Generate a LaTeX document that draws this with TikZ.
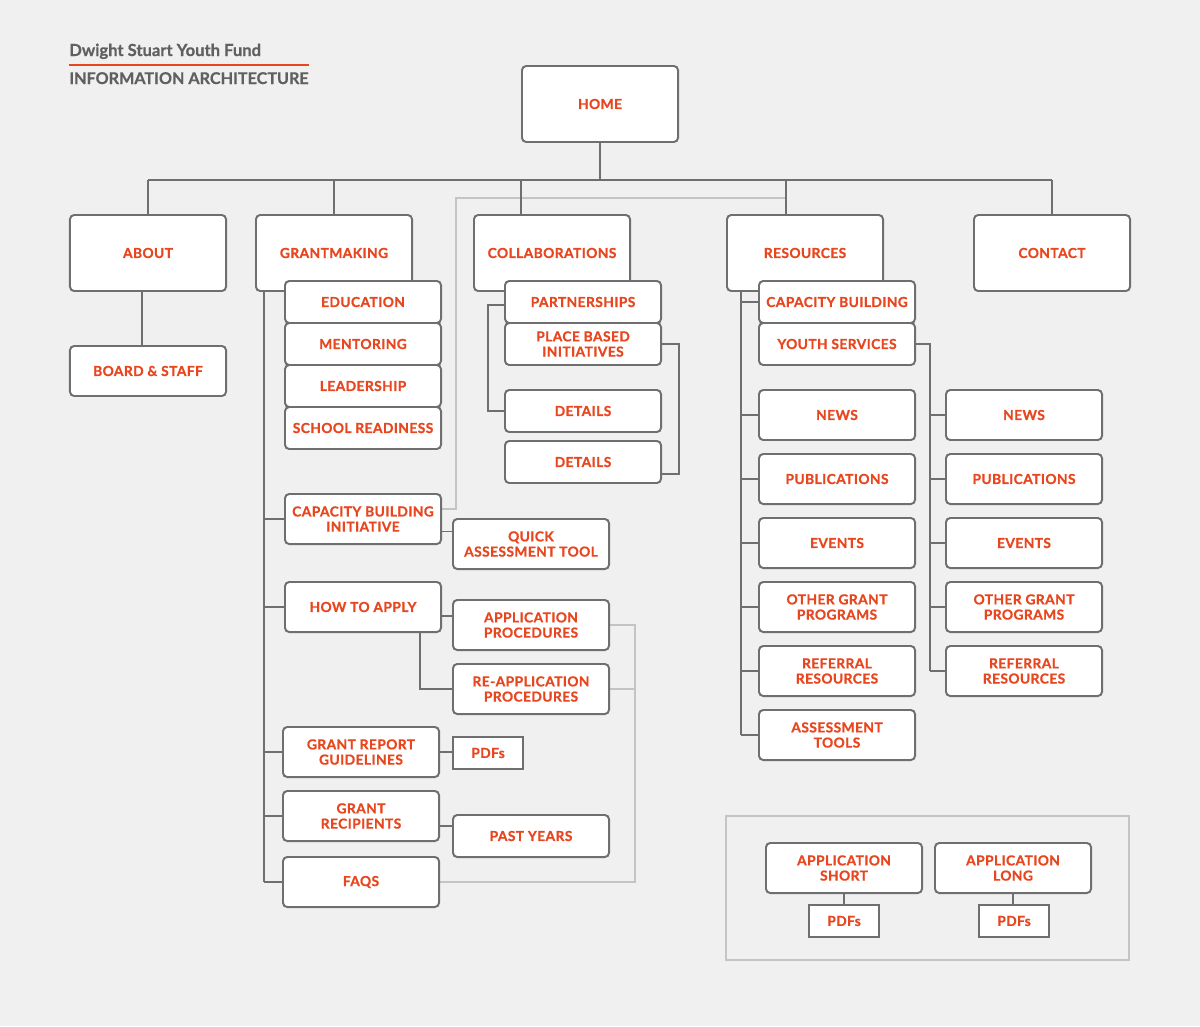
\documentclass[tikz,border=0pt]{standalone}
\usepackage{fontspec}
\setmainfont{Lato}[BoldFeatures={FakeBold=0.6}]
\newfontfamily\boxfont[LetterSpace=3,BoldFeatures={FakeBold=0.8}]{Lato}
\usetikzlibrary{calc,backgrounds,positioning}
\definecolor{iaorange}{HTML}{E8461E}
\definecolor{iagrey}{HTML}{6F6F6F}
\definecolor{iapale}{HTML}{C4C4C4}
\definecolor{iabg}{HTML}{F0F0F0}
\definecolor{iatitle}{HTML}{606060}
\tikzset{link/.style={draw=iagrey,line width=1.4pt},softlink/.style={draw=iapale,line width=1.4pt}}

\begin{document}
\begin{tikzpicture}[x=0.025cm,y=-0.025cm,font=\boxfont\bfseries\fontsize{9.8}{10.8}\selectfont]

\tikzset{topnode/.style={draw=iagrey,fill=white,line width=1.4pt,rounded corners=3pt,text=iaorange,align=center,inner sep=0pt,minimum width=3.9cm,minimum height=1.9cm},
pagenode/.style={topnode,minimum height=1.25cm},
tabnode/.style={topnode,minimum height=1.05cm},
pdfnode/.style={topnode,sharp corners,minimum width=1.75cm,minimum height=0.8cm}}

% Background
\begin{scope}[on background layer]
\fill[iabg] (0,0) rectangle (1200,1026);
\end{scope}

% Title
\node[anchor=base west,inner sep=0pt,text=iatitle,font=\bfseries\fontsize{11.8}{13}\selectfont] (brand) at (69,56) {Dwight Stuart Youth Fund};
\node[anchor=base west,inner sep=0pt,text=iatitle,font=\bfseries\fontsize{11.5}{13}\selectfont] (heading) at (69,84) {INFORMATION ARCHITECTURE};
\coordinate (rule) at (0,65);
\draw[iaorange,line width=1.4pt] (heading.west |- rule) -- (heading.east |- rule);

% Home and top level
\node[topnode] (home) at (600,104) {HOME};
\node[topnode] (about) at (148,253) {ABOUT};
\node[topnode] (grant) at (334,253) {GRANTMAKING};
\node[topnode] (collab) at (552,253) {COLLABORATIONS};
\node[topnode] (res) at (805,253) {RESOURCES};
\node[topnode] (contact) at (1052,253) {CONTACT};
\node[pagenode] (board) at (148,371) {BOARD \& STAFF};

% Grantmaking
\foreach \n/\y/\t in {edu/302/EDUCATION, ment/344/MENTORING, lead/386/LEADERSHIP, school/428/SCHOOL READINESS}
  \node[tabnode] (\n) at (363,\y) {\t};
\node[pagenode] (cbi) at (363,519) {CAPACITY BUILDING\\INITIATIVE};
\node[pagenode] (qat) at (531,544) {QUICK\\ASSESSMENT TOOL};
\node[pagenode] (hta) at (363,607) {HOW TO APPLY};
\node[pagenode] (app) at (531,625) {APPLICATION\\PROCEDURES};
\node[pagenode] (reapp) at (531,689) {RE-APPLICATION\\PROCEDURES};
\node[pagenode] (grg) at (361,752) {GRANT REPORT\\GUIDELINES};
\node[pdfnode] (grgpdf) at (488,753) {PDFs};
\node[pagenode] (recip) at (361,816) {GRANT\\RECIPIENTS};
\node[tabnode] (past) at (531,836) {PAST YEARS};
\node[pagenode] (faqs) at (361,882) {FAQS};

% Collaborations
\node[tabnode] (part) at (583,302) {PARTNERSHIPS};
\node[tabnode] (place) at (583,344) {PLACE BASED\\INITIATIVES};
\node[tabnode] (det1) at (583,411) {DETAILS};
\node[tabnode] (det2) at (583,462) {DETAILS};

% Resources
\node[tabnode] (rcap) at (837,302) {CAPACITY BUILDING};
\node[tabnode] (youth) at (837,344) {YOUTH SERVICES};
\foreach \n/\y/\t in {news/415/NEWS, pub/479/PUBLICATIONS, events/543/EVENTS, other/607/{OTHER GRANT\\PROGRAMS}, refer/671/{REFERRAL\\RESOURCES}}{
  \node[pagenode] (r\n) at (837,\y) {\t};
  \node[pagenode] (y\n) at (1024,\y) {\t};
}
\node[pagenode] (rassess) at (837,735) {ASSESSMENT\\TOOLS};

% Application forms
\node[draw=iapale,line width=1.4pt,minimum width=10.075cm,minimum height=3.6cm,inner sep=0pt] (forms) at (927.5,888) {};
\node[pagenode] (short) at (844,868) {APPLICATION\\SHORT};
\node[pdfnode] (shortpdf) at (844,921) {PDFs};
\node[pagenode] (long) at (1013,868) {APPLICATION\\LONG};
\node[pdfnode] (longpdf) at (1014,921) {PDFs};

\begin{scope}[on background layer]
% Cross links
\coordinate (bus) at (600,180);
\coordinate (cdrop) at (521,180);
\coordinate (rdrop) at (786,180);
\coordinate (sbend) at (456,198);
\coordinate (sside) at (635,0);
\draw[softlink] ([yshift=0.25cm]cbi.east) -| (sbend) -- (rdrop |- sbend);
\draw[softlink] (app.east) -| (sside |- faqs.east) -- (faqs.east);
\draw[softlink] (reapp.east) -- (sside |- reapp.east);

% Top level edges
\draw[link] (home) -- (bus);
\draw[link] (about.north |- bus) -- (contact.north |- bus);
\foreach \n in {about,grant,contact} \draw[link] (\n.north |- bus) -- (\n.north);
\draw[link] (cdrop) -- (cdrop |- collab.north);
\draw[link] (rdrop) -- (rdrop |- res.north);
\coordinate (adrop) at (142,0);
\draw[link] (adrop |- about.south) -- (adrop |- board.north);

% Grantmaking edges
\coordinate (gtrunk) at (264,0);
\draw[link] (gtrunk |- grant.south) -- (gtrunk |- faqs.west);
\foreach \n in {cbi,hta,grg,recip,faqs} \draw[link] (gtrunk |- \n.west) -- (\n.west);
\coordinate (q1) at ($(cbi.east)!.5!(qat.west)$);
\draw[link] (cbi.east |- q1) -- (qat.west |- q1);
\coordinate (q2) at ($(hta.east)!.5!(app.west)$);
\draw[link] (hta.east |- q2) -- (app.west |- q2);
\coordinate (hdrop) at (420,0);
\draw[link] (hdrop |- hta.south) |- (reapp.west);
\draw[link] (grg.east) -- (grgpdf.west |- grg.east);
\coordinate (q3) at ($(recip.east)!.5!(past.west)$);
\draw[link] (recip.east |- q3) -- (past.west |- q3);

% Collaborations edges
\coordinate (cleft) at (488,0);
\coordinate (cright) at (679,0);
\draw[link] ([yshift=-0.075cm]part.west) -| (cleft |- det1.west) -- (det1.west);
\draw[link] (place.east) -| (cright |- 0,474) -- (det2.east |- 0,474);

% Resources edges
\coordinate (rtrunk) at (741,0);
\draw[link] (rtrunk |- res.south) -- (rtrunk |- rassess.west);
\foreach \n in {rcap,rnews,rpub,revents,rother,rrefer,rassess} \draw[link] (rtrunk |- \n.west) -- (\n.west);
\coordinate (ytrunk) at (930,0);
\draw[link] (youth.east) -| (ytrunk |- yrefer.west);
\foreach \n in {ynews,ypub,yevents,yother,yrefer} \draw[link] (ytrunk |- \n.west) -- (\n.west);

% Form edges
\draw[link] (short.south) -- (shortpdf.north);
\draw[link] (long.south) -- (longpdf.north -| long.south);
\end{scope}

\end{tikzpicture}
\end{document}
